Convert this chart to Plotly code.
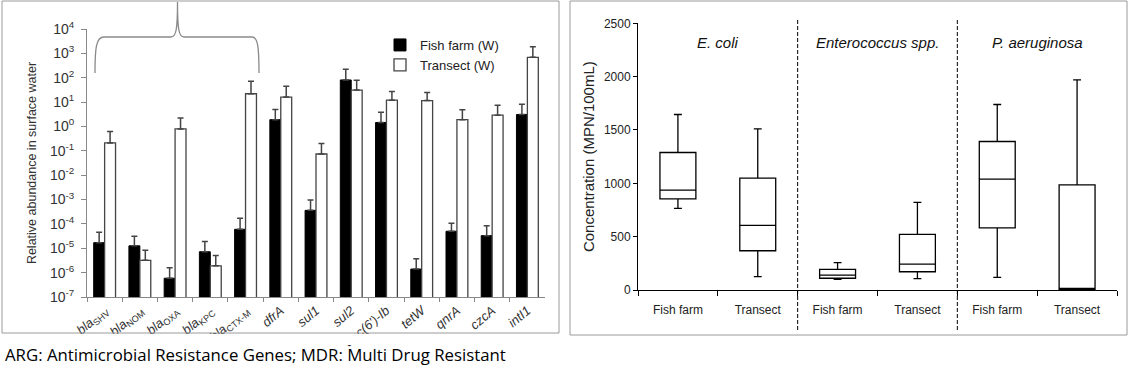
import plotly.graph_objects as go

W, H = 1130, 370

# ---------------- Left panel data (relative abundance, log scale) ----------------
genes = ["blaSHV", "blaNOM", "blaOXA", "blaKPC", "blaCTX-M", "dfrA", "sul1",
         "sul2", "aac(6')-Ib", "tetW", "qnrA", "czcA", "intI1"]
gene_labels = ["<i>bla</i><sub>SHV</sub>", "<i>bla</i><sub>NOM</sub>", "<i>bla</i><sub>OXA</sub>",
               "<i>bla</i><sub>KPC</sub>", "<i>bla</i><sub>CTX-M</sub>", "<i>dfrA</i>", "<i>sul1</i>",
               "<i>sul2</i>", "<i>aac(6')-Ib</i>", "<i>tetW</i>", "<i>qnrA</i>", "<i>czcA</i>", "<i>intI1</i>"]
fish_farm = [1.7e-5, 1.26e-5, 5.9e-7, 7.2e-6, 6.0e-5, 1.9, 3.6e-4, 81, 1.45, 1.4e-6, 5.0e-5, 3.3e-5, 3.1]
fish_upper = [4.6e-5, 3.1e-5, 1.6e-6, 1.9e-5, 1.7e-4, 5.0, 9.5e-4, 224, 3.8, 3.7e-6, 1.07e-4, 8.5e-5, 8.1]
transect = [0.21, 3.2e-6, 0.79, 1.9e-6, 22, 16, 0.074, 31, 12, 11.5, 1.9, 2.9, 690]
transect_upper = [0.62, 8.3e-6, 2.2, 5.1e-6, 72, 45, 0.20, 79, 27, 25, 4.9, 7.4, 1860]
log_ticks = [-7, -6, -5, -4, -3, -2, -1, 0, 1, 2, 3, 4]

# ---------------- Right panel data (box plots) ----------------
box_pos = [0, 1, 2, 3, 4, 5]
box_labels = ["Fish farm", "Transect", "Fish farm", "Transect", "Fish farm", "Transect"]
species = ["E. coli", "Enterococcus spp.", "P. aeruginosa"]
lowerfence = [765, 125, 100, 106, 119, 0]
q1 = [855, 368, 110, 171, 583, 6]
median = [936, 606, 140, 243, 1039, 16]
q3 = [1289, 1049, 194, 521, 1392, 986]
upperfence = [1645, 1510, 256, 821, 1739, 1969]
conc_ticks = [0, 500, 1000, 1500, 2000, 2500]

FONT = "Liberation Sans, Arial, sans-serif"


def P(x, y):
    return f"{x / W:.5f},{1 - y / H:.5f}"


fig = go.Figure()

fig.add_trace(go.Bar(
    x=gene_labels, y=fish_farm, name="Fish farm (W)",
    marker=dict(color="black", line=dict(color="black", width=1)),
    error_y=dict(type="data", symmetric=False,
                 array=[u - v for u, v in zip(fish_upper, fish_farm)],
                 arrayminus=[0] * len(fish_farm),
                 color="#444", thickness=1.5, width=3),
    xaxis="x", yaxis="y"))
fig.add_trace(go.Bar(
    x=gene_labels, y=transect, name="Transect (W)",
    marker=dict(color="white", line=dict(color="#444", width=1.3)),
    error_y=dict(type="data", symmetric=False,
                 array=[u - v for u, v in zip(transect_upper, transect)],
                 arrayminus=[0] * len(transect),
                 color="#444", thickness=1.5, width=3),
    xaxis="x", yaxis="y"))

fig.add_trace(go.Box(
    x=box_pos, q1=q1, median=median, q3=q3,
    lowerfence=lowerfence, upperfence=upperfence,
    fillcolor="white", line=dict(color="black", width=1.3),
    width=0.45, whiskerwidth=0.22, boxpoints=False,
    showlegend=False, hoverinfo="skip",
    xaxis="x2", yaxis="y2"))

shapes = []
# white cover to clip overflowing tick labels below left frame
shapes.append(dict(type="rect", xref="paper", yref="paper",
                   x0=0, x1=565 / W, y0=1 - 345 / H, y1=1 - 334 / H,
                   fillcolor="white", line=dict(width=0), layer="above"))
# panel frames
shapes.append(dict(type="rect", xref="paper", yref="paper",
                   x0=2 / W, x1=559 / W, y0=1 - 333 / H, y1=1 - 1 / H,
                   line=dict(color="#9a9a9a", width=1), layer="above"))
shapes.append(dict(type="rect", xref="paper", yref="paper",
                   x0=570 / W, x1=1127 / W, y0=1 - 335 / H, y1=1 - 1 / H,
                   line=dict(color="#9a9a9a", width=1), layer="above"))
# curly bracket over the bla genes
bracket = (f"M {P(95, 73)} C {P(95, 48)} {P(96, 37)} {P(104, 37)} L {P(171, 37)} "
           f"C {P(176, 37)} {P(177.5, 30)} {P(177.5, 2)} "
           f"C {P(177.5, 30)} {P(179, 37)} {P(184, 37)} L {P(252, 37)} "
           f"C {P(258, 37)} {P(259, 48)} {P(259, 73)}")
shapes.append(dict(type="path", xref="paper", yref="paper", path=bracket,
                   line=dict(color="#8a8a8a", width=1.3)))
# dashed separators between species
for xs in [1.5, 3.5]:
    shapes.append(dict(type="line", xref="x2", yref="paper", x0=xs, x1=xs,
                       y0=1 - 330 / H, y1=1 - 20 / H,
                       line=dict(color="black", width=1, dash="4px,2px")))

annotations = []
for i, sp in enumerate(species):
    annotations.append(dict(xref="x2", yref="y2", x=2 * i + 0.5, y=2320,
                            text=f"<i>{sp}</i>", showarrow=False,
                            font=dict(family=FONT, size=15, color="#111")))
annotations.append(dict(xref="paper", yref="paper", x=3 / W, y=1 - 354 / H,
                        xanchor="left", yanchor="middle", showarrow=False,
                        text="ARG: Antimicrobial Resistance Genes; MDR: Multi Drug Resistant",
                        font=dict(family="Open Sans, Noto Sans, sans-serif", size=16.8, color="black")))

fig.update_layout(
    width=W, height=H,
    margin=dict(l=0, r=0, t=0, b=0, autoexpand=False),
    paper_bgcolor="white", plot_bgcolor="white",
    font=dict(family=FONT, color="#333"),
    barmode="group", bargap=0.38, bargroupgap=0,
    showlegend=True,
    legend=dict(x=380 / W, y=1 - 30 / H, xanchor="left", yanchor="top",
                bgcolor="rgba(0,0,0,0)", font=dict(family=FONT, size=13, color="#222"),
                itemwidth=30, tracegroupgap=0),
    xaxis=dict(domain=[87 / W, 545 / W], anchor="y", type="category", automargin=False,
               showline=True, linecolor="#888", linewidth=1,
               ticks="outside", tickson="boundaries", ticklen=4, tickcolor="#888",
               tickangle=-40, tickfont=dict(family=FONT, size=13, color="#333"),
               showgrid=False),
    yaxis=dict(domain=[1 - 297 / H, 1 - 29 / H], anchor="x", type="log", automargin=False,
               range=[-7, 4],
               tickvals=[10 ** k for k in log_ticks],
               ticktext=[f"10<sup>{k}</sup>" for k in log_ticks],
               showline=True, linecolor="#888", linewidth=1,
               ticks="outside", ticklen=5, tickcolor="#888", ticklabelstandoff=4,
               tickfont=dict(family=FONT, size=14, color="#333"),
               showgrid=False, zeroline=False,
               title=dict(text="Relative abundance in surface water",
                          font=dict(family=FONT, size=12.5, color="#333"), standoff=10)),
    xaxis2=dict(domain=[638 / W, 1117 / W], anchor="y2", range=[-0.5, 5.5], automargin=False,
                tickmode="array", tickvals=box_pos, ticktext=box_labels, ticks="",
                ticklabelstandoff=9,
                minor=dict(tick0=0.5, dtick=1, ticks="outside", ticklen=5,
                           tickcolor="black", tickwidth=1),
                showline=True, linecolor="black", linewidth=1,
                tickfont=dict(family=FONT, size=12, color="#222"),
                showgrid=False, zeroline=False),
    yaxis2=dict(domain=[1 - 290 / H, 1 - 23.3 / H], anchor="x2", range=[0, 2500], automargin=False,
                tickvals=conc_ticks, ticks="outside", ticklen=4, tickcolor="black",
                showline=True, linecolor="black", linewidth=1,
                tickfont=dict(family=FONT, size=12, color="#222"),
                showgrid=False, zeroline=False,
                title=dict(text="Concentration (MPN/100mL)",
                           font=dict(family=FONT, size=15, color="#222"), standoff=5)),
    shapes=shapes,
    annotations=annotations,
)

fig.write_html("out.html", config={"displayModeBar": False},
               post_script="document.body.style.margin='0';")
